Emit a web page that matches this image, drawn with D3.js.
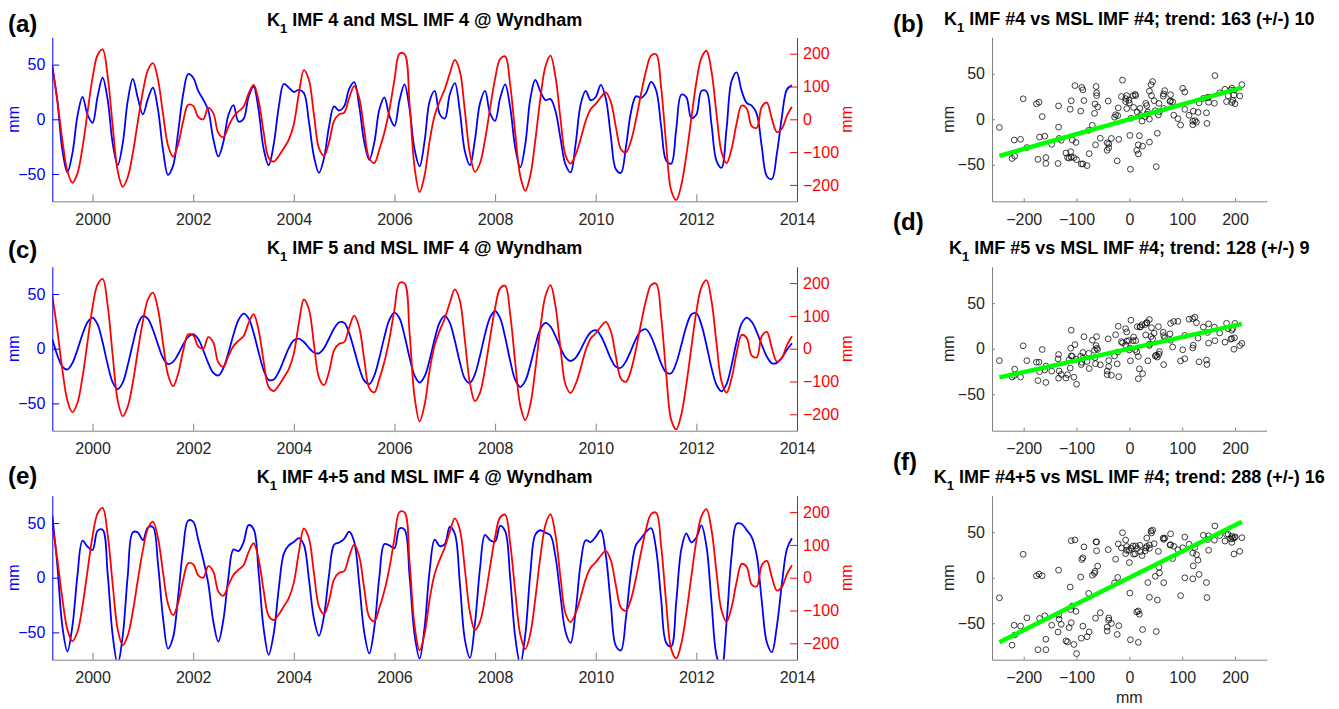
<!DOCTYPE html>
<html><head><meta charset="utf-8">
<script src="https://cdn.jsdelivr.net/npm/d3@7/dist/d3.min.js"></script>
<style>
body{margin:0;background:#fff;}
svg text{font-family:"Liberation Sans",Arial,Helvetica,sans-serif;}
</style>
</head><body>
<svg id="c" width="1339" height="709"></svg>
<script>
// ---------------- data ----------------
// sample times: every 0.1 yr starting 1999.2 (148 samples)
const tStart = 1999.2, tStep = 0.1;

// MSL IMF 4 (red, right axis, mm)
const mslImf4 = [162,56,-64,-158,-194,-165,-86,21,127,196,213,132,-20,-158,-206,-176,-103,-7,84,150,
171,121,17,-80,-114,-77,-7,44,41,7,0,35,19,-42,-55,-22,8,24,38,78,
105,57,-39,-117,-129,-112,-88,-62,-15,78,150,120,14,-88,-111,-70,-5,15,20,65,
101,65,-34,-120,-133,-92,-40,30,120,200,199,49,-147,-222,-170,-65,12,55,92,140,
181,146,25,-105,-160,-134,-62,33,124,184,192,105,-42,-173,-218,-171,-63,64,161,194,
130,1,-110,-135,-108,-60,-5,31,47,67,82,53,-23,-91,-101,-66,-1,77,148,194,
198,97,-76,-217,-246,-201,-110,3,113,187,209,147,17,-100,-134,-90,-13,42,33,-21,
-26,38,51,2,-39,-28,11,38];

// K1 IMF 4 (blue, panel a)
const k1Imf4 = [48,17.5,-28,-48.5,-31,3,20.6,4.3,-3.2,20.8,38,18,-22,-42,-22,17,37,19.4,4.5,18.7,
29,9,-28,-50.8,-42.6,-12.1,22.7,41.4,38,26,18,8,-18,-34,-20.8,4,13,-2,0.2,20.3,
30,8.4,-27,-42,-23,11,32.3,29,25,27,24,-2,-34,-49,-35.5,-6.6,11.8,8,11.9,27.8,
34,12,-21,-37,-21,9,20,3,-6,17.2,32,9.5,-27.5,-43,-19.5,16.8,26,4.7,0.7,22.9,
33,7.1,-29.5,-42,-18.5,14.7,26,5.7,-1.4,19.4,32,10.9,-25.8,-44,-22.8,18.8,36,25.4,17.6,18.5,
7.6,-17.7,-41.5,-48.5,-22.8,13.6,26,17.5,20.4,31.5,19.1,-15.3,-45.7,-49,-25.4,6.5,21,19.5,24.1,34.2,
26.6,-6.3,-37.7,-40.5,-9,22.5,20.3,1.1,4.4,25.8,25.6,-4.5,-38,-44.3,-8.6,35,43,26,15,12.5,
5,-25,-52,-54.8,-31.2,2.3,27.3,31];

// K1 IMF 5 (blue, panel c)
const k1Imf5 = [8.8,-6,-16.4,-19,-13.1,-0.9,13.2,24.2,28.5,22.2,5.9,-14.4,-30.7,-37,-31.1,-14.9,4.5,22,29.9,27.3,
17.3,3.9,-8.5,-14,-12.1,-5.1,3.7,10.8,13.3,8.8,-1.4,-13.3,-22.1,-24.5,-17.7,-3.7,12.8,26.3,32,27.8,
14.6,-3.2,-19.6,-28.5,-28.2,-21.3,-10.5,0.5,7.7,9.2,6.1,0.8,-3.5,-4.2,0.5,9.3,18.4,24.2,23.7,14.3,
-1.2,-17.5,-29.2,-32.3,-24.5,-8.3,10.8,26.5,33,27.8,11.9,-8,-24.6,-31,-25.2,-9.9,8.9,24.2,30,23.7,
7.2,-12.4,-27.4,-31.3,-23.3,-6.4,13.2,28.6,34.5,27.9,10.5,-11,-28.4,-35,-29.4,-14.8,3.4,18,23.6,20.3,
11.6,0.8,-7.9,-11.2,-8.3,-0.8,8.3,15.1,17,11.9,1.9,-9.2,-16.6,-17.4,-11.6,-1.7,9,16.3,17.8,11.1,
-0.6,-13.4,-21.8,-22.4,-13.1,3.2,20.3,31.3,32.4,22,3.4,-17.3,-33,-39,-32.3,-15,6.4,23.1,28.5,24.6,
15.3,3.5,-7.1,-13.3,-13,-8,-1,5];

// K1 IMF 4+5 (blue, panel e)
const k1Imf45 = [56.8,11.5,-44.4,-67.5,-44.1,2.1,33.8,28.5,25.3,43,43.9,3.6,-52.7,-79,-53.1,2.1,41.5,41.4,34.4,46,
46.3,12.9,-36.5,-64.8,-54.7,-17.2,26.4,52.2,51.3,34.8,16.6,-5.3,-40.1,-58.5,-38.5,0.3,25.8,24.3,32.2,48.1,
44.6,5.2,-46.6,-70.5,-51.2,-10.3,21.8,29.5,32.7,36.2,30.1,-1.2,-37.5,-53.2,-35,2.7,30.2,32.2,35.6,42.1,
32.8,-5.5,-50.2,-69.3,-45.5,0.7,30.8,29.5,27,45,43.9,1.5,-52.1,-74,-44.7,6.9,34.9,28.9,30.7,46.6,
40.2,-5.3,-56.9,-73.3,-41.8,8.3,39.2,34.3,33.1,47.3,42.5,-0.1,-54.2,-79,-52.2,4,39.4,43.4,41.2,38.8,
19.2,-16.9,-49.4,-59.7,-31.1,12.8,34.3,32.6,37.4,43.4,21,-24.5,-62.3,-66.4,-37,4.8,30,35.8,41.9,45.3,
26,-19.7,-59.5,-62.9,-22.1,25.7,40.6,32.4,36.8,47.8,29,-21.8,-71,-83.3,-40.9,20,49.4,49.1,43.5,37.1,
20.3,-21.5,-59.1,-68.1,-44.2,-5.7,26.3,36];

const blueSeries = [k1Imf4, k1Imf5, k1Imf45];
const imfNames = ["4", "5", "4+5"];
const imfNumNames = ["#4", "#5", "#4+5"];
const trendValues = [163, 128, 288];
const trendErrors = [10, 9, 16];
const trendIntercepts = [0, 0, 0];
const leftLabels = ["(a)", "(c)", "(e)"];
const rightLabels = ["(b)", "(d)", "(f)"];

const yearTicks = [2000, 2002, 2004, 2006, 2008, 2010, 2012, 2014];
const leftTicks = [-50, 0, 50];
const rightTicks = [-200, -100, 0, 100, 200];
const scXTicks = [-200, -100, 0, 100, 200];
const scYTicks = [-50, 0, 50];

// ---------------- layout ----------------
const svg = d3.select('#c');
const TS_L = 52.3, TS_R = 797, SC_L = 992, SC_R = 1266.7, H = 164;
const tops = [37.3, 266.7, 495.7];
const tsTitleY = [26, 254, 483];
const scTitleY = [25, 254, 483];
const leftLabelY = [31.5, 258, 484];
const rightLabelY = [31.5, 230, 470];
const BLUE = '#0000ff', RED = '#ff0000', GRAY = '#262626', AXG = '#808080';

const times = mslImf4.map((_, i) => tStart + i * tStep);

function addTitle(cx, y, rest) {
  const t = svg.append('text').attr('x', cx).attr('y', y)
    .attr('text-anchor', 'middle').attr('font-weight', 'bold')
    .attr('font-size', 18).attr('fill', '#000');
  t.append('tspan').text('K');
  t.append('tspan').attr('font-size', 13).attr('dy', 7).text('1');
  t.append('tspan').attr('dy', -7).text(rest);
}

function styleAxis(g, color, textColor) {
  g.select('.domain').attr('stroke', color).attr('stroke-width', 1);
  g.selectAll('.tick line').attr('stroke', color).attr('stroke-width', 1);
  g.selectAll('.tick text').attr('fill', textColor).attr('font-size', 16)
    .attr('font-family', '"Liberation Sans",Arial,sans-serif');
}

tops.forEach((top, p) => {
  const blue = blueSeries[p];
  // ---------- time series panel ----------
  const x = d3.scaleLinear().domain([1999.2, 2014]).range([TS_L, TS_R]);
  const yl = d3.scaleLinear().domain([-75, 75]).range([top + H, top]);
  const yr = d3.scaleLinear().domain([-250, 250]).range([top + H, top]);

  const cid = 'clip' + p;
  svg.append('clipPath').attr('id', cid).append('rect')
    .attr('x', TS_L).attr('y', top).attr('width', TS_R - TS_L).attr('height', H);

  const gl = svg.append('g').attr('clip-path', `url(#${cid})`);
  const lineB = d3.line().x((d, i) => x(times[i])).y(d => yl(d)).curve(d3.curveCatmullRom.alpha(0.5));
  const lineR = d3.line().x((d, i) => x(times[i])).y(d => yr(d)).curve(d3.curveCatmullRom.alpha(0.5));
  gl.append('path').datum(blue).attr('d', lineB).attr('fill', 'none')
    .attr('stroke', BLUE).attr('stroke-width', 1.8);
  gl.append('path').datum(mslImf4).attr('d', lineR).attr('fill', 'none')
    .attr('stroke', RED).attr('stroke-width', 1.8);

  const gx = svg.append('g').attr('transform', `translate(0,${top + H})`)
    .call(d3.axisBottom(x).tickValues(yearTicks).tickFormat(d3.format('d'))
      .tickSizeInner(-7).tickSizeOuter(0).tickPadding(12));
  styleAxis(gx, AXG, GRAY);
  const gyl = svg.append('g').attr('transform', `translate(${TS_L},0)`)
    .call(d3.axisLeft(yl).tickValues(leftTicks).tickSizeInner(-7).tickSizeOuter(0).tickPadding(7));
  styleAxis(gyl, BLUE, BLUE);
  const gyr = svg.append('g').attr('transform', `translate(${TS_R},0)`)
    .call(d3.axisRight(yr).tickValues(rightTicks).tickSizeInner(-7).tickSizeOuter(0).tickPadding(6));
  styleAxis(gyr, RED, RED);

  svg.append('text').attr('transform', `translate(19,${top + H / 2}) rotate(-90)`)
    .attr('text-anchor', 'middle').attr('font-size', 16).attr('fill', BLUE).text('mm');
  svg.append('text').attr('transform', `translate(852,${top + H / 2}) rotate(-90)`)
    .attr('text-anchor', 'middle').attr('font-size', 16).attr('fill', RED).text('mm');

  addTitle((TS_L + TS_R) / 2, tsTitleY[p], ` IMF ${imfNames[p]} and MSL IMF 4 @ Wyndham`);
  svg.append('text').attr('x', 8).attr('y', leftLabelY[p]).attr('font-size', 24)
    .attr('font-weight', 'bold').text(leftLabels[p]);

  // ---------- scatter panel ----------
  const sx = d3.scaleLinear().domain([-260, 260]).range([SC_L, SC_R]);
  const sy = d3.scaleLinear().domain([-90, 90]).range([top + H, top]);
  const pairs = d3.zip(mslImf4, blue);
  const gs = svg.append('g');
  gs.selectAll('circle').data(pairs).join('circle')
    .attr('cx', d => sx(d[0])).attr('cy', d => sy(d[1])).attr('r', 2.9)
    .attr('fill', 'none').attr('stroke', '#000').attr('stroke-width', 0.75);

  const slope = trendValues[p] / 1000, b0 = trendIntercepts[p];
  const ext = d3.extent(mslImf4);
  gs.append('line')
    .attr('x1', sx(ext[0])).attr('y1', sy(slope * ext[0] + b0))
    .attr('x2', sx(ext[1])).attr('y2', sy(slope * ext[1] + b0))
    .attr('stroke', '#00ff00').attr('stroke-width', 4.5);

  const sgx = svg.append('g').attr('transform', `translate(0,${top + H})`)
    .call(d3.axisBottom(sx).tickValues(scXTicks).tickSizeInner(-3).tickSizeOuter(0).tickPadding(12));
  styleAxis(sgx, AXG, GRAY);
  const sgy = svg.append('g').attr('transform', `translate(${SC_L},0)`)
    .call(d3.axisLeft(sy).tickValues(scYTicks).tickSizeInner(-3).tickSizeOuter(0).tickPadding(7));
  styleAxis(sgy, AXG, GRAY);

  svg.append('text').attr('transform', `translate(954,${top + H / 2}) rotate(-90)`)
    .attr('text-anchor', 'middle').attr('font-size', 16).attr('fill', GRAY).text('mm');

  addTitle((SC_L + SC_R) / 2, scTitleY[p],
    ` IMF ${imfNumNames[p]} vs MSL IMF #4; trend: ${trendValues[p]} (+/-) ${trendErrors[p]}`);
  svg.append('text').attr('x', 893).attr('y', rightLabelY[p]).attr('font-size', 24)
    .attr('font-weight', 'bold').text(rightLabels[p]);
});

svg.append('text').attr('x', (SC_L + SC_R) / 2).attr('y', 703)
  .attr('text-anchor', 'middle').attr('font-size', 16).attr('fill', GRAY).text('mm');
</script>
</body></html>
